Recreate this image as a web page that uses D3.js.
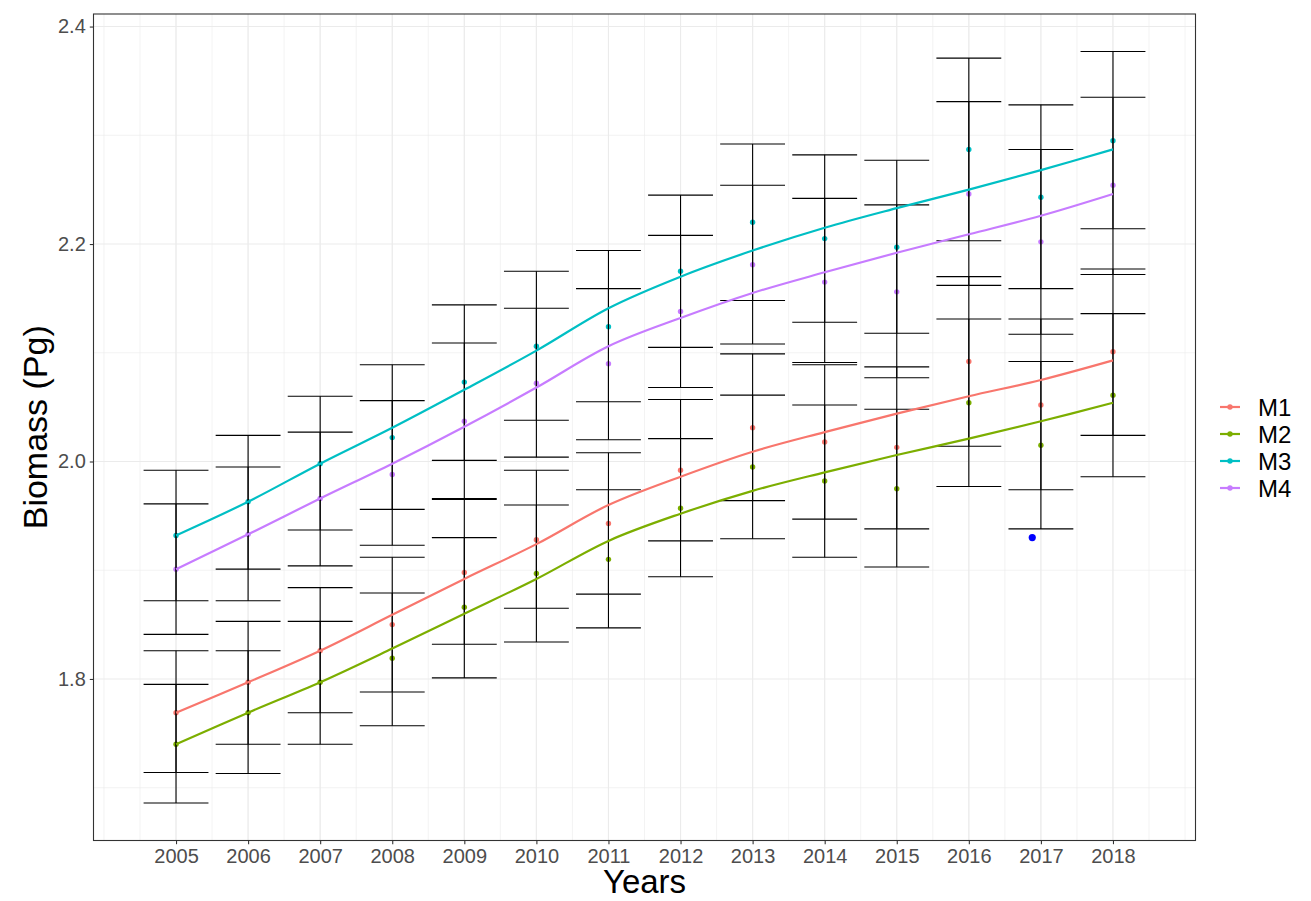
<!DOCTYPE html>
<html><head><meta charset="utf-8">
<script src="https://cdn.jsdelivr.net/npm/d3@7"></script>
<style>body{margin:0;background:#fff}svg{display:block}text{font-family:"Liberation Sans",Arial,sans-serif}</style>
</head><body><svg id="c" width="1311" height="901"></svg>
<script>
const years = [2005,2006,2007,2008,2009,2010,2011,2012,2013,2014,2015,2016,2017,2018];
const models = ["M1","M2","M3","M4"];
const colors = ["#F8766D","#7CAE00","#00BFC4","#C77CFF"];
// observed points
const m1 = [1.769,1.797,1.826,1.850,1.898,1.928,1.943,1.992,2.031,2.018,2.013,2.092,2.052,2.101];
const m2 = [1.740,1.769,1.797,1.819,1.866,1.897,1.910,1.957,1.995,1.982,1.975,2.054,2.015,2.061];
const m3 = [1.932,1.963,1.998,2.022,2.073,2.106,2.124,2.175,2.220,2.205,2.197,2.287,2.243,2.295];
const m4 = [1.901,1.933,1.966,1.988,2.037,2.072,2.090,2.138,2.181,2.165,2.156,2.246,2.202,2.254];
// error bar bounds
const m1Low  = [1.714,1.740,1.769,1.788,1.832,1.865,1.878,1.927,1.964,1.947,1.938,2.014,1.974,2.024];
const m1High = [1.826,1.853,1.884,1.912,1.965,1.992,2.008,2.057,2.099,2.089,2.087,2.170,2.131,2.177];
const m2Low  = [1.686,1.713,1.740,1.757,1.801,1.834,1.847,1.894,1.929,1.912,1.903,1.977,1.938,1.986];
const m2High = [1.795,1.826,1.853,1.879,1.930,1.960,1.974,2.021,2.061,2.052,2.048,2.131,2.092,2.136];
const m3Low  = [1.872,1.901,1.937,1.956,2.001,2.038,2.055,2.105,2.148,2.128,2.118,2.203,2.159,2.214];
const m3High = [1.992,2.024,2.060,2.089,2.144,2.175,2.194,2.245,2.292,2.282,2.277,2.371,2.328,2.377];
const m4Low  = [1.841,1.872,1.904,1.923,1.966,2.004,2.020,2.068,2.108,2.091,2.077,2.162,2.117,2.172];
const m4High = [1.961,1.995,2.027,2.056,2.109,2.141,2.159,2.208,2.254,2.242,2.236,2.331,2.287,2.335];
// smoothed trend lines
const m1Fit = [1.769,1.797,1.826,1.859,1.892,1.924,1.960,1.986,2.009,2.027,2.044,2.060,2.075,2.093];
const m2Fit = [1.740,1.769,1.797,1.828,1.860,1.892,1.927,1.952,1.973,1.990,2.006,2.021,2.037,2.054];
const m3Fit = [1.932,1.963,1.998,2.031,2.066,2.102,2.141,2.170,2.194,2.215,2.233,2.250,2.268,2.287];
const m4Fit = [1.901,1.933,1.966,1.998,2.032,2.068,2.106,2.132,2.155,2.174,2.192,2.209,2.226,2.246];
// extra highlighted point
const extraX = [2016.88];
const extraY = [1.930];
const xTicks = years;
const yTicks = [1.8,2.0,2.2,2.4];

const pts=[m1,m2,m3,m4], lows=[m1Low,m2Low,m3Low,m4Low], highs=[m1High,m2High,m3High,m4High], fits=[m1Fit,m2Fit,m3Fit,m4Fit];

const L=93.5,R=1195.5,T=14,B=840.5;
const barW=0.45;
const xlo=years[0]-barW, xhi=years[years.length-1]+barW, xe=(xhi-xlo)*0.05;
const yall=lows.flat().concat(highs.flat());
const ylo=d3.min(yall), yhi=d3.max(yall), ye=(yhi-ylo)*0.05;
const x=d3.scaleLinear().domain([xlo-xe,xhi+xe]).range([L,R]);
const y=d3.scaleLinear().domain([ylo-ye,yhi+ye]).range([B,T]);
const svg=d3.select("#c");
const g=svg.append("g");

// grid
const xMinor=d3.range(2004,2019.01,0.5), yMinor=[1.7,1.9,2.1,2.3];
g.selectAll(".gxm").data(xMinor).join("line").attr("x1",d=>x(d)).attr("x2",d=>x(d)).attr("y1",T).attr("y2",B).attr("stroke","#EBEBEB").attr("stroke-width",0.6);
g.selectAll(".gym").data(yMinor).join("line").attr("y1",d=>y(d)).attr("y2",d=>y(d)).attr("x1",L).attr("x2",R).attr("stroke","#EBEBEB").attr("stroke-width",0.6);
g.selectAll(".gx").data(xTicks).join("line").attr("x1",d=>x(d)).attr("x2",d=>x(d)).attr("y1",T).attr("y2",B).attr("stroke","#EBEBEB").attr("stroke-width",1.1);
g.selectAll(".gy").data(yTicks).join("line").attr("y1",d=>y(d)).attr("y2",d=>y(d)).attr("x1",L).attr("x2",R).attr("stroke","#EBEBEB").attr("stroke-width",1.1);

// points
models.forEach((m,i)=>{
  g.append("g").selectAll("circle").data(years).join("circle")
   .attr("cx",d=>x(d)).attr("cy",(d,j)=>y(pts[i][j])).attr("r",2.7).attr("fill",colors[i]);
});
// error bars
models.forEach((m,i)=>{
  const eb=g.append("g").attr("stroke","#000").attr("stroke-width",1.1);
  years.forEach((yr,j)=>{
    eb.append("line").attr("x1",x(yr)).attr("x2",x(yr)).attr("y1",y(lows[i][j])).attr("y2",y(highs[i][j]));
    eb.append("line").attr("x1",x(yr-barW)).attr("x2",x(yr+barW)).attr("y1",y(lows[i][j])).attr("y2",y(lows[i][j]));
    eb.append("line").attr("x1",x(yr-barW)).attr("x2",x(yr+barW)).attr("y1",y(highs[i][j])).attr("y2",y(highs[i][j]));
  });
});
// fit lines
const line=d3.line().x((d,j)=>x(years[j])).y(d=>y(d)).curve(d3.curveCatmullRom);
models.forEach((m,i)=>{
  g.append("path").attr("d",line(fits[i])).attr("fill","none").attr("stroke",colors[i]).attr("stroke-width",2.2);
});
// extra point
g.selectAll(".ex").data(extraX).join("circle").attr("cx",d=>x(d)).attr("cy",(d,j)=>y(extraY[j])).attr("r",3.6).attr("fill","#0000FF");

// border
svg.append("rect").attr("x",L).attr("y",T).attr("width",R-L).attr("height",B-T).attr("fill","none").attr("stroke","#333333").attr("stroke-width",1.1);

// axes
const xa=svg.append("g").attr("transform",`translate(0,${B})`).call(d3.axisBottom(x).tickValues(xTicks).tickFormat(d3.format("d")).tickSize(3.7).tickPadding(5));
const ya=svg.append("g").attr("transform",`translate(${L},0)`).call(d3.axisLeft(y).tickValues(yTicks).tickFormat(d3.format(".1f")).tickSize(3.7).tickPadding(4));
[xa,ya].forEach(a=>{a.select(".domain").remove();a.selectAll(".tick line").attr("stroke","#333333").attr("stroke-width",1.1);
  a.selectAll(".tick text").attr("fill","#4D4D4D").style("font-size","20px");});

// titles
svg.append("text").attr("x",(L+R)/2).attr("y",893).attr("text-anchor","middle").style("font-size","33px").attr("fill","#000").text("Years");
svg.append("text").attr("transform",`translate(47,${(T+B)/2}) rotate(-90)`).attr("text-anchor","middle").style("font-size","34px").attr("fill","#000").text("Biomass (Pg)");

// legend
const lg=svg.append("g");
const ly=[407,434,461,488];
models.forEach((m,i)=>{
  lg.append("line").attr("x1",1220).attr("x2",1240).attr("y1",ly[i]).attr("y2",ly[i]).attr("stroke",colors[i]).attr("stroke-width",2.2);
  lg.append("circle").attr("cx",1230).attr("cy",ly[i]).attr("r",2.7).attr("fill",colors[i]);
  lg.append("text").attr("x",1258).attr("y",ly[i]).attr("dominant-baseline","central").style("font-size","24px").attr("fill","#000").text(m);
});
</script></body></html>
